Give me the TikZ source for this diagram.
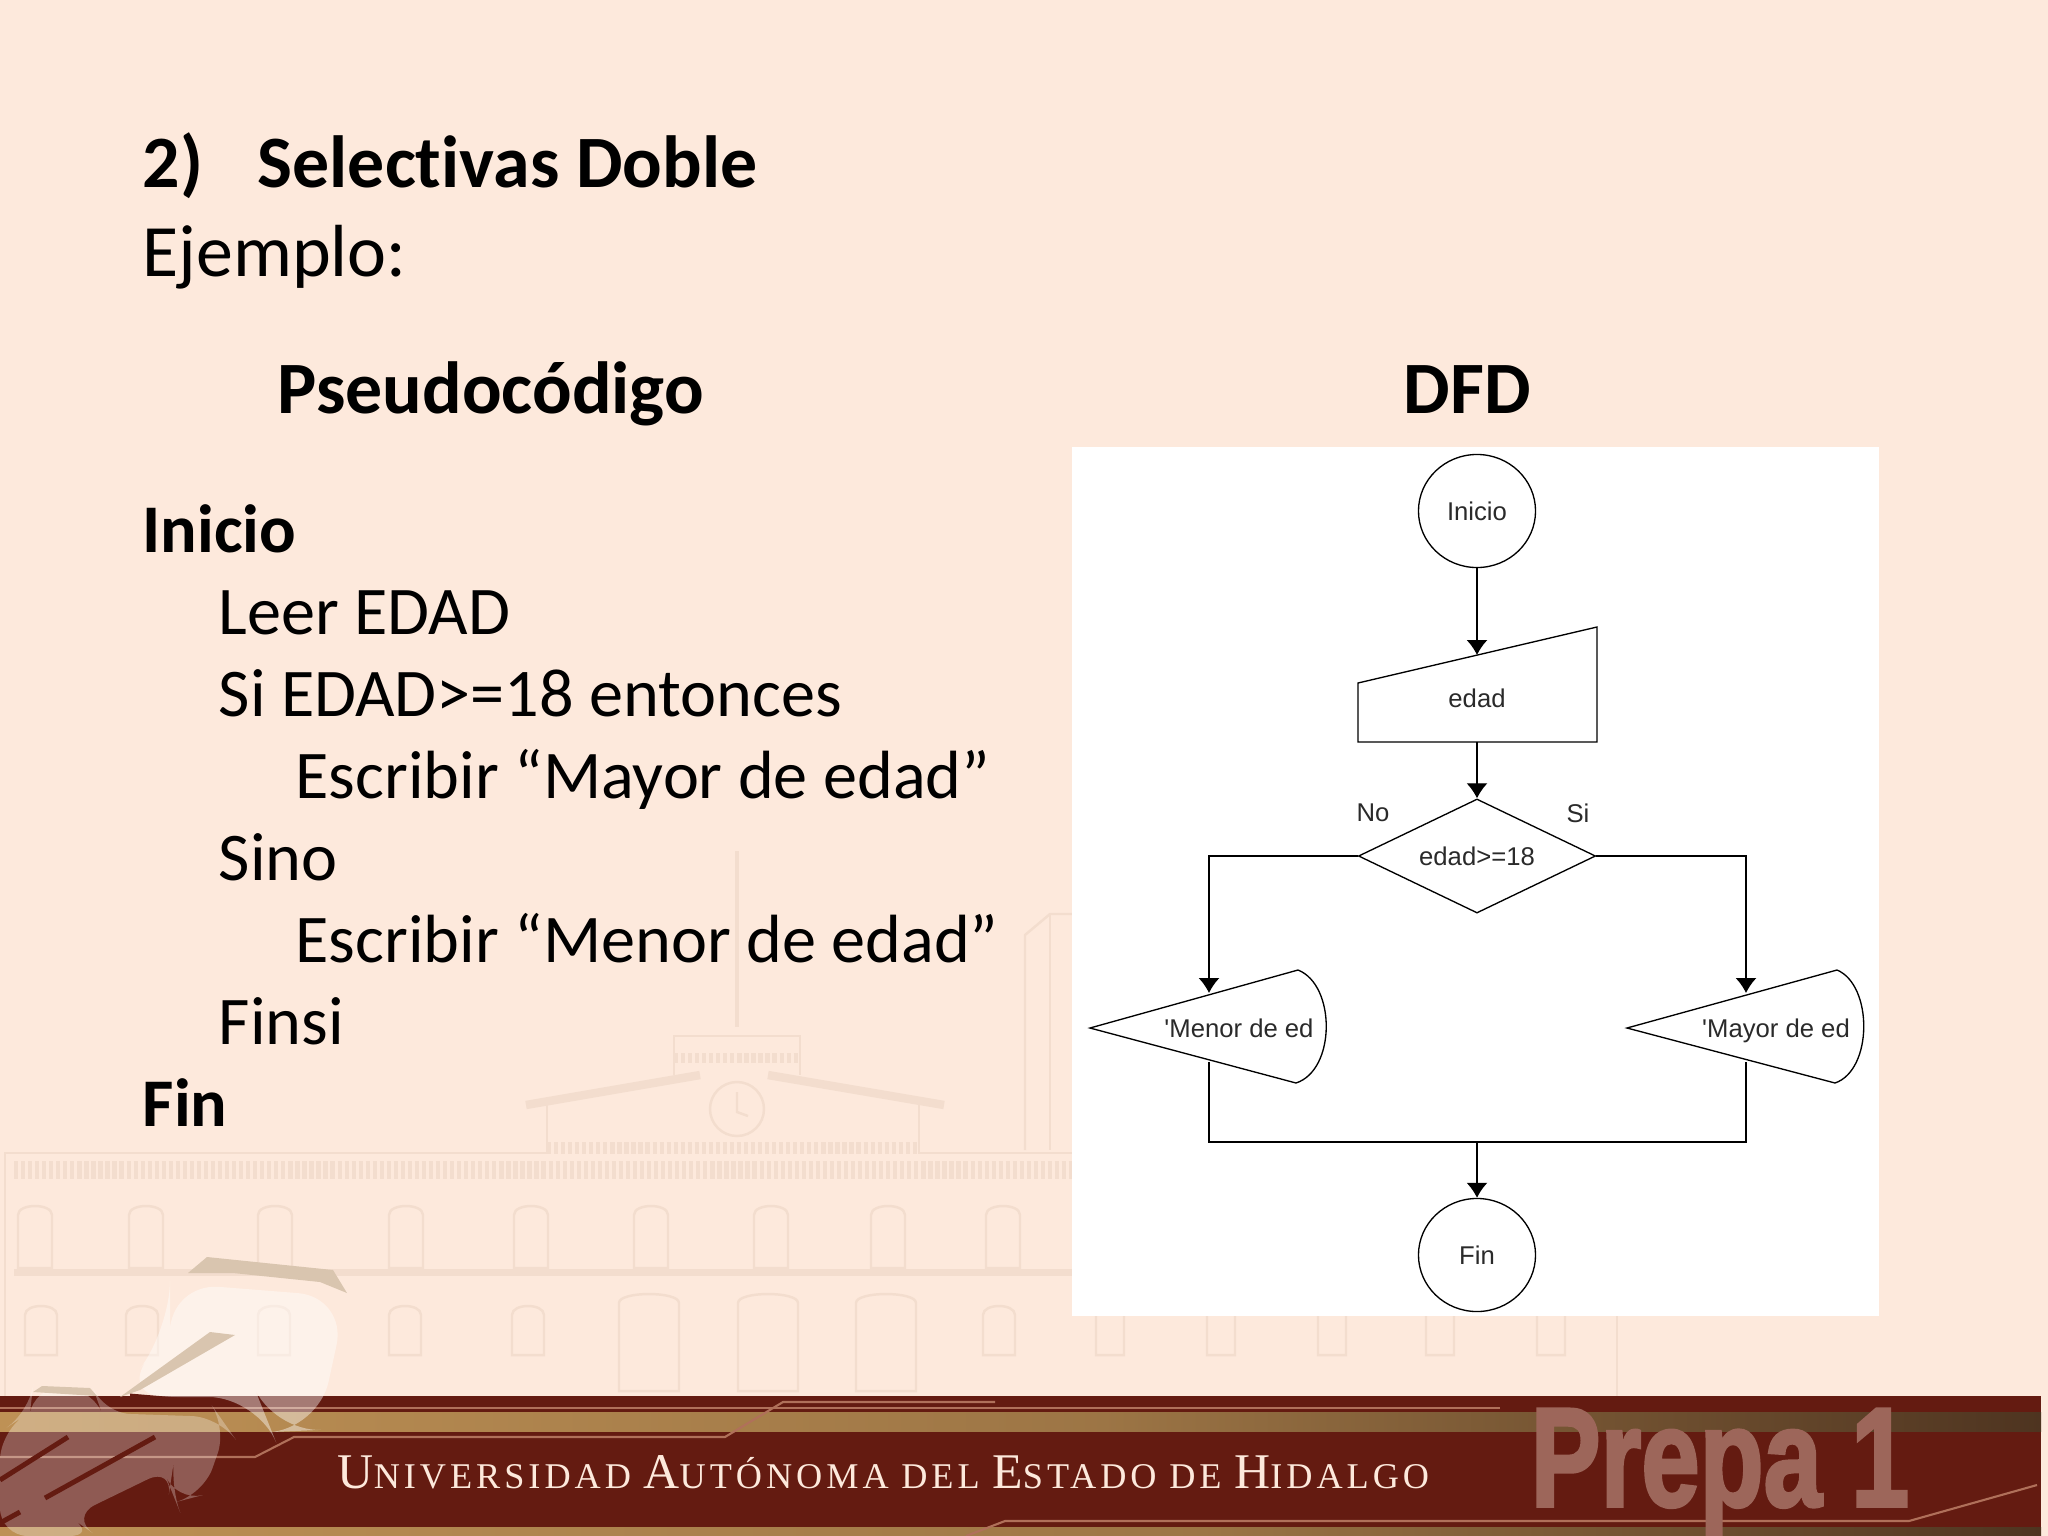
\documentclass[tikz,border=0pt]{standalone}
\usepackage{fontspec}
\setmainfont{Carlito}[Ligatures=NoCommon]
\newfontfamily\chartfont{Liberation Sans}
\newfontfamily\bandfont{Liberation Serif}[LetterSpace=11]
\newfontfamily\prepafont{Liberation Sans Bold}[FakeBold=2.5]
\usetikzlibrary{arrows.meta,positioning,calc,shapes.geometric}
\definecolor{SlidePeach}{HTML}{FDE9DC}
\definecolor{WallLine}{HTML}{F3DDCE}
\definecolor{BandRed}{HTML}{641B11}
\definecolor{BandGold}{HTML}{BE9155}
\definecolor{BandBrown}{HTML}{4E3420}
\definecolor{BandLine}{HTML}{B0705A}
\definecolor{LogoTan}{HTML}{D9C5AF}
\definecolor{PrepaRose}{HTML}{9D665A}
\definecolor{ChartInk}{HTML}{2A2A2A}
\newcommand{\wallwin}[4]{\draw[wall] (#1-#4/2,#3) -- (#1-#4/2,#2+12) .. controls (#1-#4/2,#2) and (#1+#4/2,#2) .. (#1+#4/2,#2+12) -- (#1+#4/2,#3) -- cycle;}
\newcommand{\capword}[2]{{\fontsize{14.2}{15}\selectfont #1}{\fontsize{10.3}{11}\selectfont #2}}
\tikzset{
  wall/.style={draw=WallLine,line width=.7pt},
  slidetext/.style={anchor=base west,inner sep=0pt,font=\fontsize{19.4}{22}\selectfont},
  slidebold/.style={slidetext,font=\fontsize{19.4}{22}\selectfont\bfseries},
  headtext/.style={slidetext,font=\fontsize{21}{24}\selectfont},
  headbold/.style={slidetext,font=\fontsize{21}{24}\selectfont\bfseries},
  flowline/.style={draw=black,line width=.38pt},
  flowarrow/.style={flowline,-{Latex[length=.15cm,width=.21cm]}},
  chartlabel/.style={inner sep=0pt,text=ChartInk,font=\chartfont\fontsize{7.3}{8}\selectfont},
  terminal/.style={chartlabel,draw=black,line width=.38pt,ellipse,minimum width=1.17cm,minimum height=1.13cm},
  decision/.style={chartlabel,draw=black,line width=.38pt,diamond,aspect=2.08,minimum width=2.37cm,minimum height=1.14cm}
}
\begin{document}
\begin{tikzpicture}[x=.01cm,y=-.01cm,>=Latex]
  \useasboundingbox (0,0) rectangle (2048,1536);
  \fill[SlidePeach] (0,0) rectangle (2048,1536);
  % building
  \draw[wall] (5,1396)--(5,1153)--(547,1153)--(547,1105);
  \draw[wall] (919,1105)--(919,1153)--(1072,1153);
  \draw[wall,line width=5pt,dash pattern=on 1.2pt off .8pt,WallLine] (14,1170)--(1072,1170);
  \draw[wall,line width=2pt] (14,1272)--(1072,1272);
  \draw[wall] (1617,1316)--(1617,1396);
  \foreach \wx in {35,146,275,406,531,651,771,888,1003} {\wallwin{\wx}{1203}{1268}{34}}
  \foreach \wx in {41,142,274,405,528,999} {\wallwin{\wx}{1303}{1355}{32}}
  \foreach \wx in {1110,1221,1332,1440,1551} {\wallwin{\wx}{1303}{1355}{28}}
  \foreach \wx in {649,768,886} {\wallwin{\wx}{1291}{1391}{60}}
  \draw[wall,line width=2.4pt] (526,1105)--(700,1075) (768,1075)--(944,1105);
  \draw[wall,line width=3.5pt,dash pattern=on 1.2pt off .8pt] (547,1148)--(919,1148);
  \draw[wall] (737,1109) circle (27);
  \draw[wall] (737,1092)--(737,1112)--(748,1116);
  \draw[wall] (674,1075)--(674,1036)--(800,1036)--(800,1075);
  \draw[wall,line width=3pt,dash pattern=on 1.2pt off .8pt] (674,1058)--(800,1058);
  \draw[wall,line width=1.2pt] (737,851)--(737,1027);
  \draw[wall] (1025,1150)--(1025,935)--(1050,914)--(1072,914);
  \draw[wall] (1050,914)--(1050,1150);
  % footer band
  \fill[BandRed] (0,1396) rectangle (2041,1536);
  \shade[left color=BandGold,right color=BandGold!70!BandBrown] (0,1412) rectangle (1100,1431);
  \shade[left color=BandGold!70!BandBrown,right color=BandBrown] (1100,1412) rectangle (2041,1431);
  \draw[BandLine,line width=.6pt] (0,1408)--(1500,1408);
  \shade[left color=BandGold,right color=BandGold!70!BandBrown] (0,1527) rectangle (1200,1536);
  \shade[left color=BandGold!70!BandBrown,right color=BandBrown] (1200,1527) rectangle (2041,1536);
  \draw[BandLine,line width=.6pt] (995,1402)--(783,1402)--(725,1437)--(294,1437)--(255,1457)--(0,1457);
  \draw[BandLine,line width=.6pt] (966,1536)--(1005,1521)--(1909,1521)--(2037,1485);
  % logo
  \fill[white,opacity=.42,rounded corners=14pt] (170,1283)--(347,1297)--(318,1430)--(272,1432)--(258,1397)--(118,1397)--(170,1330)--cycle;
  \fill[white,opacity=.28,rounded corners=8pt] (33,1387)--(93,1388)--(102,1413)--(220,1417)--(227,1427)--(203,1495)--(176,1502)--(170,1487)--(173,1467)--(70,1517)--(97,1536)--(0,1536)--(0,1432)--(30,1412)--cycle;
  \fill[LogoTan] (188,1273)--(207,1257)--(333,1270)--(347,1293)--(320,1282)--(233,1273)--cycle;
  \fill[LogoTan] (210,1332)--(235,1335)--(140,1390)--(120,1397)--cycle;
  \fill[LogoTan] (33,1392)--(42,1386)--(90,1388)--(97,1396)--cycle;
  \draw[BandRed,line width=1.4pt] (130,1396)--(225,1404) (0,1480)--(68,1437) (45,1498)--(155,1437) (0,1523)--(20,1512);
  \node[anchor=base west,inner sep=0pt,text=PrepaRose,font=\prepafont\fontsize{40}{44}\selectfont] (prepa) at (1530,1506) {\scalebox{.745}[1]{Prepa 1}};
  \node[anchor=base west,inner sep=0pt,text=SlidePeach,font=\bandfont] (uni) at (337,1488)
   {\capword{U}{NIVERSIDAD} \capword{A}{UTÓNOMA} \capword{}{DEL} \capword{E}{STADO} \capword{}{DE} \capword{H}{IDALGO}};
  % slide text
  \node[headbold] (title) at (142,187) {2)};
  \node[headbold] (titleb) at (257,187) {Selectivas Doble};
  \node[headtext] (ejemplo) at (142,276) {Ejemplo:};
  \node[headbold] (pseudo) at (277,413) {Pseudocódigo};
  \node[headbold] (dfd) at (1403,413) {DFD};
  \node[slidebold] (ini) at (142,552) {Inicio};
  \node[slidetext] (leer) at (218,634) {Leer EDAD};
  \node[slidetext] (si) at (218,716) {Si EDAD>=18 entonces};
  \node[slidetext] (esc) at (295,798) {Escribir “Mayor de edad”};
  \node[slidetext] (sino) at (218,880) {Sino};
  \node[slidetext] (escb) at (295,962) {Escribir “Menor de edad”};
  \node[slidetext] (finsi) at (218,1044) {Finsi};
  \node[slidebold] (fn) at (142,1126) {Fin};
  % flow chart
  \fill[white] (1072,447) rectangle (1879,1316);
  \node[terminal] (inicio) at (1477,511) {Inicio};
  \node[chartlabel] (edad) at (1477,698) {edad};
  \draw[flowline] (1358,683)--(1597,627)--(1597,742)--(1358,742)--cycle;
  \coordinate (edadin) at (1477,655);
  \coordinate (edadout) at (1477,742);
  \node[decision] (cond) at (1477,856) {edad>=18};
  \node[chartlabel] (no) at (1373,813) {No};
  \node[chartlabel] (yes) at (1578,813) {Si};
  \node[chartlabel,anchor=base] (menor) at (1239,1037) {'Menor de ed};
  \draw[flowline] (1090,1028)--(1298,970) .. controls (1336,985) and (1336,1070) .. (1296,1083)--cycle;
  \coordinate (menorin) at (1209,993);
  \coordinate (menorout) at (1209,1062);
  \node[chartlabel,anchor=base] (mayor) at (1776,1037) {'Mayor de ed};
  \draw[flowline] (1627,1028)--(1837,970) .. controls (1873,985) and (1873,1070) .. (1835,1083)--cycle;
  \coordinate (mayorin) at (1746,993);
  \coordinate (mayorout) at (1746,1062);
  \coordinate (merge) at (1477,1142);
  \node[terminal] (fin) at (1477,1255) {Fin};
  \draw[flowarrow] (inicio)--(edadin);
  \draw[flowarrow] (edadout)--(cond);
  \draw[flowarrow] (cond.west)-|(menorin);
  \draw[flowarrow] (cond.east)-|(mayorin);
  \draw[flowline] (menorout)|-(merge);
  \draw[flowline] (mayorout)|-(merge);
  \draw[flowarrow] (merge)--(fin);
\end{tikzpicture}
\end{document}
